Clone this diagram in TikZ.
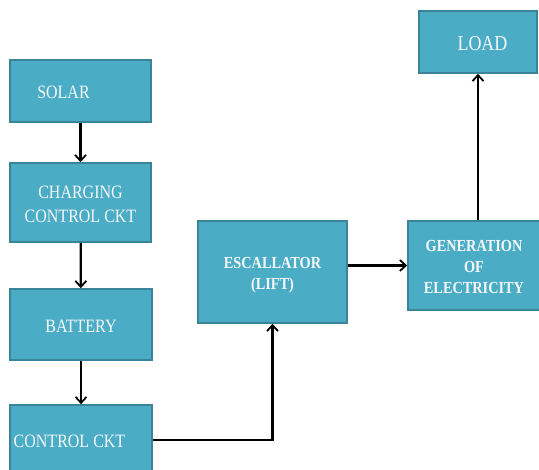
\documentclass[tikz,border=0pt]{standalone}
\usepackage{graphicx}
\usepackage{fontspec}
\setmainfont{Liberation Serif}
\usetikzlibrary{arrows.meta}
\definecolor{boxfill}{HTML}{4BACC6}
\definecolor{boxline}{HTML}{3A8399}
\definecolor{boxtext}{HTML}{F4F8FA}
\newcommand\vst[1]{\raisebox{0pt}[\dimexpr\height+6pt\relax][\depth]{\scalebox{1}[1.18]{\begin{tabular}{@{}c@{}}#1\end{tabular}}}}
\begin{document}
\begin{tikzpicture}[x=1pt,y=1pt,
  blk/.style={draw=boxline,line width=1.6pt,fill=boxfill,text=boxtext,inner sep=0pt,
    font=\fontsize{16}{20}\selectfont},
  bblk/.style={blk,font=\fontsize{14.3}{17.5}\selectfont\bfseries},
  conn/.style={line width=2.2pt,-{Straight Barb[length=6pt,width=11pt,line width=1.8pt]}}]
\useasboundingbox (0,0) rectangle (539,470);
\node[blk,minimum width=141,minimum height=62] (solar) at (80.5,379) {\vst{SOLAR}\kern34pt};
\node[blk,minimum width=141,minimum height=79] (charge) at (80.5,267.5) {\vst{CHARGING\\CONTROL CKT}};
\node[blk,minimum width=142,minimum height=71] (battery) at (81,145.5) {\vst{BATTERY}};
\node[blk,minimum width=142,minimum height=70] (ctrl) at (81,30) {\vst{CONTROL CKT}\kern23pt};
\node[bblk,minimum width=149,minimum height=102] (esc) at (272.5,198) {\vst{ESCALLATOR\\(LIFT)}};
\node[bblk,minimum width=132,minimum height=89] (gen) at (474,204.5) {\vst{GENERATION\\OF\\ELECTRICITY}};
\node[blk,font=\fontsize{18}{22}\selectfont,minimum width=118,minimum height=62] (load) at (478,428) {\kern9pt\vst{LOAD}};
\draw[conn] (solar) -- (charge);
\draw[conn] (charge) -- (battery);
\draw[conn] (battery) -- (ctrl);
\draw[conn] (ctrl.east) -| (esc.south);
\draw[conn] (esc.east |- gen.west) -- (gen.west);
\draw[conn] (load.south |- gen.north) -- (load.south);
\end{tikzpicture}
\end{document}
